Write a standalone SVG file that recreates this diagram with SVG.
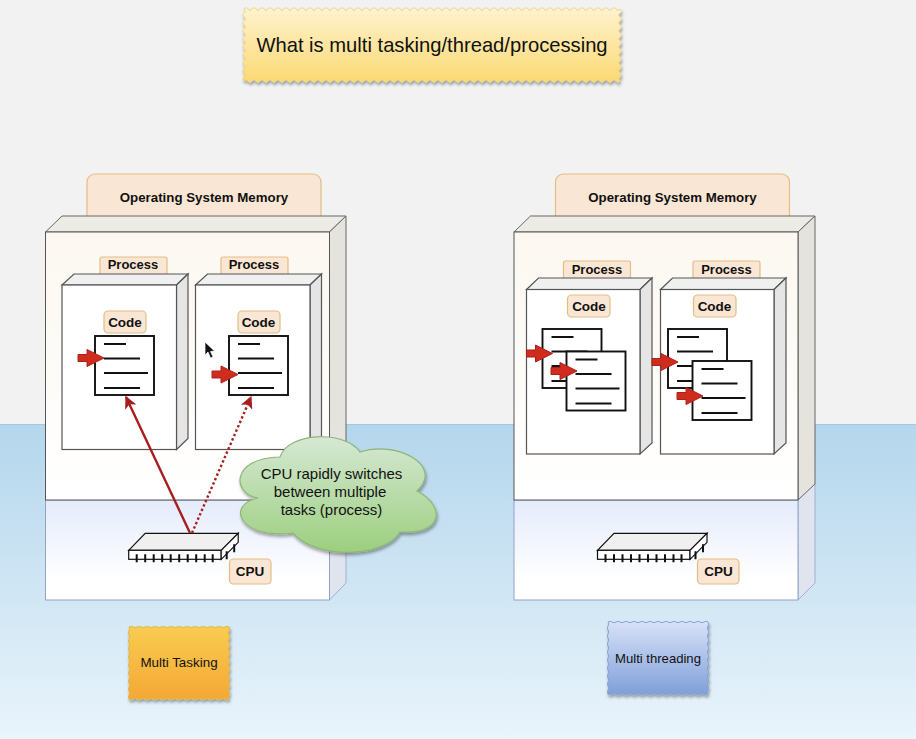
<svg xmlns="http://www.w3.org/2000/svg" xmlns:xlink="http://www.w3.org/1999/xlink" width="916" height="739" viewBox="0 0 916 739">
<style>
text{font-family:"Liberation Sans",Arial,sans-serif;fill:#111;text-anchor:middle}
.b{font-weight:700}
.lab{fill:#fae6d4;stroke:#e3bd84;stroke-width:1.2}
.cf{fill:#fff;stroke:#555;stroke-width:1.2}
.ct{fill:#f0f0f0;stroke:#555;stroke-width:1.2}
.cs{fill:#e5e5e5;stroke:#555;stroke-width:1.2}
.doc{fill:#fff;stroke:#111;stroke-width:1.9}
.ln{stroke:#111;stroke-width:2;fill:none}
.blk{fill:#cf2c1e;stroke:#a8231a;stroke-width:1}
.pin{stroke:#111;stroke-width:2}
.chip{fill:#f0f0f0;stroke:#111;stroke-width:1.2}
.mt{fill:#ecebe6;stroke:#666;stroke-width:1}
.ms{fill:#e4e3de;stroke:#666;stroke-width:1}
.mf{fill:url(#top);stroke:#555;stroke-width:1}
</style>
<defs>
<linearGradient id="water" x1="0" y1="0" x2="0" y2="1"><stop offset="0" stop-color="#b4d6ec"/><stop offset="1" stop-color="#e9f4fb"/></linearGradient>
<linearGradient id="top" x1="0" y1="0" x2="0" y2="1"><stop offset="0" stop-color="#fcf8f1"/><stop offset="1" stop-color="#ffffff"/></linearGradient>
<linearGradient id="low" x1="0" y1="0" x2="0" y2="1"><stop offset="0" stop-color="#e4ebfb"/><stop offset="0.8" stop-color="#ffffff"/></linearGradient>
<linearGradient id="title" x1="0" y1="0" x2="0" y2="1"><stop offset="0" stop-color="#fff3cf"/><stop offset="1" stop-color="#fbd973"/></linearGradient>
<linearGradient id="orange" x1="0" y1="0" x2="0" y2="1"><stop offset="0" stop-color="#f9cc50"/><stop offset="1" stop-color="#f4a835"/></linearGradient>
<linearGradient id="blue" x1="0" y1="0" x2="0" y2="1"><stop offset="0" stop-color="#d8e2f8"/><stop offset="1" stop-color="#7f9fd9"/></linearGradient>
<linearGradient id="green" x1="0" y1="0" x2="0" y2="1"><stop offset="0" stop-color="#d6e8d4"/><stop offset="1" stop-color="#9ccf7e"/></linearGradient>
<filter id="sh" x="-10%" y="-10%" width="120%" height="125%"><feDropShadow dx="1" dy="2.5" stdDeviation="1.5" flood-color="#000" flood-opacity="0.35"/></filter>
<marker id="ah" viewBox="0 0 10 10" refX="9" refY="5" markerWidth="5.2" markerHeight="5.2" orient="auto" markerUnits="strokeWidth"><path d="M0 0L10 5L0 10L2.500 5Z" fill="#a81e1e"/></marker>
<g id="blockArrow"><path class="blk" d="M0-3.500H9V-8.500L26 0L9 8.500V3.500H0Z"/></g>
<g id="docShape">
<rect class="doc" x="0" y="0" width="59" height="59"/>
<path class="ln" d="M9 8H31M9 22.500H45M9 37H53M9 52H45"/>
</g>
<g id="cpuShape">
<path class="chip" d="M0 17L16.500 0H109.500L92.500 17Z"/>
<rect class="chip" x="0" y="17" width="92.500" height="9" style="fill:#fff"/>
<path class="chip" d="M92.500 17L109.500 0V9L92.500 26Z" style="fill:#fff"/>
<path class="pin" d="M8 21V29M16.500 21V29M25 21V29M33.500 21V29M42 21V29M50.500 21V29M59 21V29M67.500 21V29M76 21V29M84 21V29M98 18V26M105.500 11V19"/>
</g>
</defs>

<g id="background">
<rect x="0" y="0" width="916" height="424" fill="#f2f2f2"/>
<rect x="0" y="424" width="916" height="315" fill="url(#water)"/>
<path d="M0 424.500H916" stroke="#a9c7dc" stroke-width="1"/>
</g>

<g id="title">
<path filter="url(#sh)" fill="url(#title)" stroke="#ecd080" stroke-width="0.800" d="M244 9q2 -3 4 0
t4 0t4 0t4 0t4 0t4 0t4 0t4 0t4 0t4 0t4 0
t4 0t4 0t4 0t4 0t4 0t4 0t4 0t4 0t4 0t4 0
t4 0t4 0t4 0t4 0t4 0t4 0t4 0t4 0t4 0t4 0
t4 0t4 0t4 0t4 0t4 0t4 0t4 0t4 0t4 0t4 0
t4 0t4 0t4 0t4 0t4 0t4 0t4 0t4 0t4 0t4 0
t4 0t4 0t4 0t4 0t4 0t4 0t4 0t4 0t4 0t4 0
t4 0t4 0t4 0t4 0t4 0t4 0t4 0t4 0t4 0t4 0
t4 0t4 0t4 0t4 0t4 0t4 0t4 0t4 0t4 0t4 0
t4 0t4 0t4 0t4 0t4 0t4 0t4 0t4 0t4 0t4 0
t4 0t4 0t4 0
q3 2 0 4t0 4t0 4t0 4t0 4t0 4t0 4t0 4t0 4t0 4t0 4t0 4t0 4t0 4t0 4t0 4t0 4t0 4
q-2 3 -4 0
t-4 0t-4 0t-4 0t-4 0t-4 0t-4 0t-4 0t-4 0t-4 0t-4 0
t-4 0t-4 0t-4 0t-4 0t-4 0t-4 0t-4 0t-4 0t-4 0t-4 0
t-4 0t-4 0t-4 0t-4 0t-4 0t-4 0t-4 0t-4 0t-4 0t-4 0
t-4 0t-4 0t-4 0t-4 0t-4 0t-4 0t-4 0t-4 0t-4 0t-4 0
t-4 0t-4 0t-4 0t-4 0t-4 0t-4 0t-4 0t-4 0t-4 0t-4 0
t-4 0t-4 0t-4 0t-4 0t-4 0t-4 0t-4 0t-4 0t-4 0t-4 0
t-4 0t-4 0t-4 0t-4 0t-4 0t-4 0t-4 0t-4 0t-4 0t-4 0
t-4 0t-4 0t-4 0t-4 0t-4 0t-4 0t-4 0t-4 0t-4 0t-4 0
t-4 0t-4 0t-4 0t-4 0t-4 0t-4 0t-4 0t-4 0t-4 0t-4 0
t-4 0t-4 0t-4 0
q-3 -2 0 -4t0 -4t0 -4t0 -4t0 -4t0 -4t0 -4t0 -4t0 -4t0 -4t0 -4t0 -4t0 -4t0 -4t0 -4t0 -4t0 -4t0 -4Z"/>
<text x="432" y="52" font-size="20.200">What is multi tasking/thread/processing</text>
</g>

<g id="memory-left">
<rect class="lab" x="87" y="174" width="234" height="50" rx="8"/>
<text class="b" x="204" y="202" font-size="13.300">Operating System Memory</text>
<path d="M329.500 484L346 484V583L329.500 600Z" fill="#dfe4ee" stroke="#9db0d0" stroke-width="1"/>
<rect x="45.500" y="500" width="284" height="100" fill="url(#low)" stroke="#8ea3c9" stroke-width="1"/>
<path class="mt" d="M45.500 232L62 216H346L329.500 232Z"/>
<path class="ms" d="M329.500 232L346 216V484L329.500 500Z"/>
<rect class="mf" x="45.500" y="232" width="284" height="268"/>
</g>

<g id="process-left-1">
<rect class="lab" x="100" y="257" width="67" height="20" rx="2"/>
<text class="b" x="133" y="269" font-size="13">Process</text>
<path class="ct" d="M62 285L74 274H188L176.500 285Z"/>
<path class="cs" d="M176.500 285L188 274V438.500L176.500 449.500Z"/>
<rect class="cf" x="62" y="285" width="114.500" height="164.500"/>
<rect class="lab" x="104" y="311" width="42" height="22" rx="4"/>
<text class="b" x="125" y="327" font-size="13.500">Code</text>
<use xlink:href="#docShape" href="#docShape" x="95" y="336"/>
<use xlink:href="#blockArrow" href="#blockArrow" x="78" y="358"/>
</g>

<g id="process-left-2">
<rect class="lab" x="221" y="257" width="67" height="20" rx="2"/>
<text class="b" x="254" y="269" font-size="13">Process</text>
<path class="ct" d="M195.500 285L207.500 274H321.500L310 285Z"/>
<path class="cs" d="M310 285L321.500 274V438.500L310 449.500Z"/>
<rect class="cf" x="195.500" y="285" width="114.500" height="164.500"/>
<rect class="lab" x="238" y="311" width="42" height="22" rx="4"/>
<text class="b" x="258.500" y="327" font-size="13.500">Code</text>
<use xlink:href="#docShape" href="#docShape" x="229" y="336"/>
<use xlink:href="#blockArrow" href="#blockArrow" x="212" y="374.500"/>
</g>

<g id="cpu-left">
<use xlink:href="#cpuShape" href="#cpuShape" x="128.700" y="533.300"/>
<rect class="lab" x="229.500" y="559" width="41.500" height="25" rx="4"/>
<text class="b" x="250" y="575.500" font-size="13.500">CPU</text>
</g>

<g id="connectors">
<path d="M190 533L126 397" fill="none" stroke="#a81e1e" stroke-width="2.400" marker-end="url(#ah)"/>
<path d="M192 533L251 397" fill="none" stroke="#a81e1e" stroke-width="2.400" stroke-dasharray="2.400 2.400" marker-end="url(#ah)"/>
</g>

<g id="cloud">
<path filter="url(#sh)" fill="url(#green)" stroke="#8fb577" stroke-width="1.200" d="M258 498C232 494 230 458 280 457C288 432 345 430 360 452C395 440 445 465 417 491C445 505 445 535 400 532C385 558 315 560 293 533C240 540 225 505 258 498Z"/>
<text x="331.500" y="479" font-size="15">CPU rapidly switches</text>
<text x="330" y="497" font-size="15">between multiple</text>
<text x="331.500" y="515" font-size="15">tasks (process)</text>
</g>

<g id="multi-tasking">
<path filter="url(#sh)" fill="url(#orange)" stroke="#e2b84a" stroke-width="1" d="M129 627q2 -1.500 4 0t4 0t4 0t4 0t4 0t4 0t4 0t4 0t4 0t4 0t4 0t4 0t4 0t4 0t4 0t4 0t4 0t4 0t4 0t4 0t4 0t4 0t4 0t4 0t4 0q1.500 2 0 4t0 4t0 4t0 4t0 4t0 4t0 4t0 4t0 4t0 4t0 4t0 4t0 4t0 4t0 4t0 4t0 4t0 4q-2 1.500 -4 0t-4 0t-4 0t-4 0t-4 0t-4 0t-4 0t-4 0t-4 0t-4 0t-4 0t-4 0t-4 0t-4 0t-4 0t-4 0t-4 0t-4 0t-4 0t-4 0t-4 0t-4 0t-4 0t-4 0t-4 0q-1.500 -2 0 -4t0 -4t0 -4t0 -4t0 -4t0 -4t0 -4t0 -4t0 -4t0 -4t0 -4t0 -4t0 -4t0 -4t0 -4t0 -4t0 -4t0 -4Z"/>
<text x="179" y="667" font-size="13.400">Multi Tasking</text>
</g>

<g id="memory-right">
<rect class="lab" x="555.500" y="174" width="234" height="50" rx="8"/>
<text class="b" x="672.500" y="202" font-size="13.300">Operating System Memory</text>
<path d="M798 484L815 484V583L798 600Z" fill="#dfe4ee" stroke="#9db0d0" stroke-width="1"/>
<rect x="514" y="500" width="284" height="100" fill="url(#low)" stroke="#8ea3c9" stroke-width="1"/>
<path class="mt" d="M514 232L530.500 216H815L798 232Z"/>
<path class="ms" d="M798 232L815 216V484L798 500Z"/>
<rect class="mf" x="514" y="232" width="284" height="268"/>
</g>

<g id="process-right-1">
<rect class="lab" x="563.500" y="261" width="67" height="20" rx="2"/>
<text class="b" x="597" y="274" font-size="13">Process</text>
<path class="ct" d="M526.500 289.500L538.500 278H652L640 289.500Z"/>
<path class="cs" d="M640 289.500L652 278V443L640 454Z"/>
<rect class="cf" x="526.500" y="289.500" width="113.500" height="164.500"/>
<rect class="lab" x="567.500" y="295" width="42.500" height="22" rx="4"/>
<text class="b" x="589" y="310.500" font-size="13.500">Code</text>
<use xlink:href="#docShape" href="#docShape" x="542.500" y="329"/>
<use xlink:href="#blockArrow" href="#blockArrow" x="526.500" y="353.500"/>
<use xlink:href="#docShape" href="#docShape" x="566.500" y="351.500"/>
<use xlink:href="#blockArrow" href="#blockArrow" x="551" y="371"/>
</g>

<g id="process-right-2">
<rect class="lab" x="693" y="261" width="67" height="20" rx="2"/>
<text class="b" x="726.500" y="274" font-size="13">Process</text>
<path class="ct" d="M660.500 289.500L672.500 278H786L774 289.500Z"/>
<path class="cs" d="M774 289.500L786 278V443L774 454Z"/>
<rect class="cf" x="660.500" y="289.500" width="113.500" height="164.500"/>
<rect class="lab" x="693.500" y="295" width="42.500" height="22" rx="4"/>
<text class="b" x="714.500" y="310.500" font-size="13.500">Code</text>
<use xlink:href="#docShape" href="#docShape" x="668" y="329"/>
<use xlink:href="#blockArrow" href="#blockArrow" x="652" y="362"/>
<use xlink:href="#docShape" href="#docShape" x="692.500" y="361"/>
<use xlink:href="#blockArrow" href="#blockArrow" x="677" y="396"/>
</g>

<g id="cpu-right">
<use xlink:href="#cpuShape" href="#cpuShape" x="597.500" y="533.300"/>
<rect class="lab" x="697.500" y="559" width="41.500" height="25" rx="4"/>
<text class="b" x="718.500" y="575.500" font-size="13.500">CPU</text>
</g>

<g id="multi-threading">
<path filter="url(#sh)" fill="url(#blue)" stroke="#8aa3d2" stroke-width="1" d="M608 622q2 -1.500 4 0t4 0t4 0t4 0t4 0t4 0t4 0t4 0t4 0t4 0t4 0t4 0t4 0t4 0t4 0t4 0t4 0t4 0t4 0t4 0t4 0t4 0t4 0t4 0t4 0q1.500 2 0 4t0 4t0 4t0 4t0 4t0 4t0 4t0 4t0 4t0 4t0 4t0 4t0 4t0 4t0 4t0 4t0 4t0 4q-2 1.500 -4 0t-4 0t-4 0t-4 0t-4 0t-4 0t-4 0t-4 0t-4 0t-4 0t-4 0t-4 0t-4 0t-4 0t-4 0t-4 0t-4 0t-4 0t-4 0t-4 0t-4 0t-4 0t-4 0t-4 0t-4 0q-1.500 -2 0 -4t0 -4t0 -4t0 -4t0 -4t0 -4t0 -4t0 -4t0 -4t0 -4t0 -4t0 -4t0 -4t0 -4t0 -4t0 -4t0 -4t0 -4Z"/>
<text x="658" y="662.500" font-size="13.100">Multi threading</text>
</g>

<g id="cursor">
<path d="M205 342V355L208 352L210.500 358L213 357L210.500 351.500L214.500 351Z" fill="#111" stroke="#fff" stroke-width="0.700"/>
</g>
</svg>
